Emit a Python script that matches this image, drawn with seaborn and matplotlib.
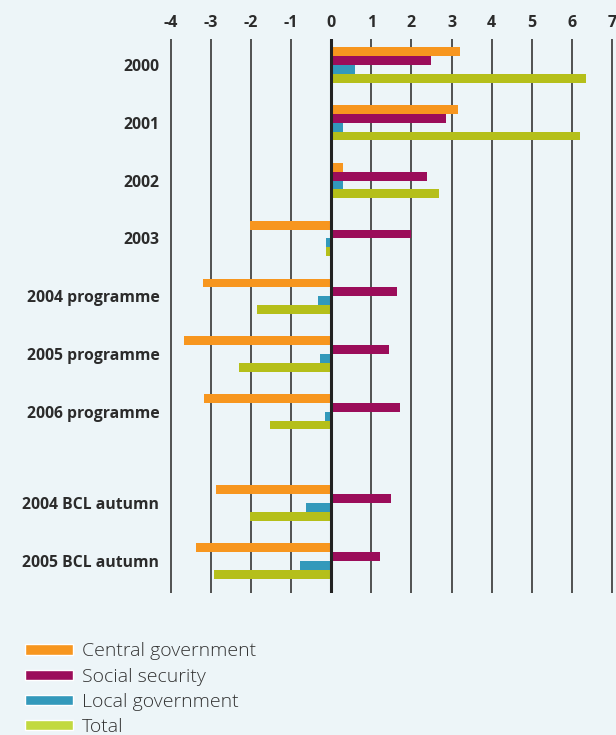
import numpy as np
import pandas as pd
import matplotlib
matplotlib.use("Agg")
import matplotlib.pyplot as plt
import seaborn as sns
from matplotlib.patches import Patch

categories = ["2000", "2001", "2002", "2003", "2004 programme", "2005 programme",
              "2006 programme", "2004 BCL autumn", "2005 BCL autumn"]
series = ["Central government", "Social security", "Local government", "Total"]
central = [3.2, 3.15, 0.3, -2.03, -3.2, -3.67, -3.18, -2.87, -3.38]
social = [2.5, 2.87, 2.4, 2.0, 1.63, 1.43, 1.71, 1.5, 1.22]
local = [0.6, 0.3, 0.3, -0.13, -0.32, -0.27, -0.15, -0.62, -0.77]
total = [6.35, 6.2, 2.7, -0.12, -1.86, -2.31, -1.52, -2.04, -2.92]
xticks = list(range(-4, 8))

colors = ["#f7961f", "#9b0d5a", "#3399bb", "#b5bf1a"]
legend_colors = ["#f7961f", "#9b0d5a", "#3399bb", "#c2d93f"]
bg = "#edf5f8"
txt = "#2b2b2b"

# extra space before the BCL forecasts
pos = np.arange(len(categories), dtype=float)
pos[7:] += 0.58

df = pd.DataFrame({"cat": categories, "pos": pos,
                   series[0]: central, series[1]: social,
                   series[2]: local, series[3]: total})
long = df.melt(id_vars=["cat", "pos"], value_vars=series,
               var_name="series", value_name="value")

sns.set_style("white")
plt.rcParams["font.family"] = ["Open Sans", "DejaVu Sans"]

fig = plt.figure(figsize=(6.16, 7.35), dpi=100, facecolor=bg)
ax = fig.add_axes([0.2744, 0.1936, 0.722, 0.7534])
ax.set_facecolor(bg)

sns.barplot(data=long, x="value", y="pos", hue="series", hue_order=series,
            palette=colors, orient="h", native_scale=True, width=0.61,
            dodge=True, saturation=1, legend=False, linewidth=0, ax=ax)

ax.set_xlim(-4.05, 7.05)
ax.set_ylim(9.13, -0.45)
ax.set_xticks(xticks)
ax.set_xticklabels([str(t) for t in xticks], fontsize=11.5, fontweight="bold", color=txt)
ax.set_yticks(pos)
ax.set_yticklabels(categories, fontsize=11.3, fontweight="bold", color=txt)
ax.xaxis.tick_top()
ax.tick_params(axis="y", length=0, pad=7)
ax.tick_params(axis="x", length=0, pad=6)
for s in ax.spines.values():
    s.set_visible(False)
ax.set_xlabel("")
ax.set_ylabel("")

for t in xticks:
    if t == 0:
        ax.axvline(0, color="#222222", lw=2.2, zorder=5)
    else:
        ax.axvline(t, color="#444444", lw=1.3, zorder=0)

handles = [Patch(facecolor=c, label=s) for c, s in zip(legend_colors, series)]
leg = fig.legend(handles=handles, loc="lower left", bbox_to_anchor=(0.028, -0.012),
                 frameon=False, handlelength=2.45, handleheight=0.45,
                 labelspacing=0.37, handletextpad=0.5, borderaxespad=0,
                 prop={"family": "Open Sans", "size": 14, "weight": 300})
for t in leg.get_texts():
    t.set_color("#333333")

fig.savefig("out.png", dpi=100, facecolor=bg)
